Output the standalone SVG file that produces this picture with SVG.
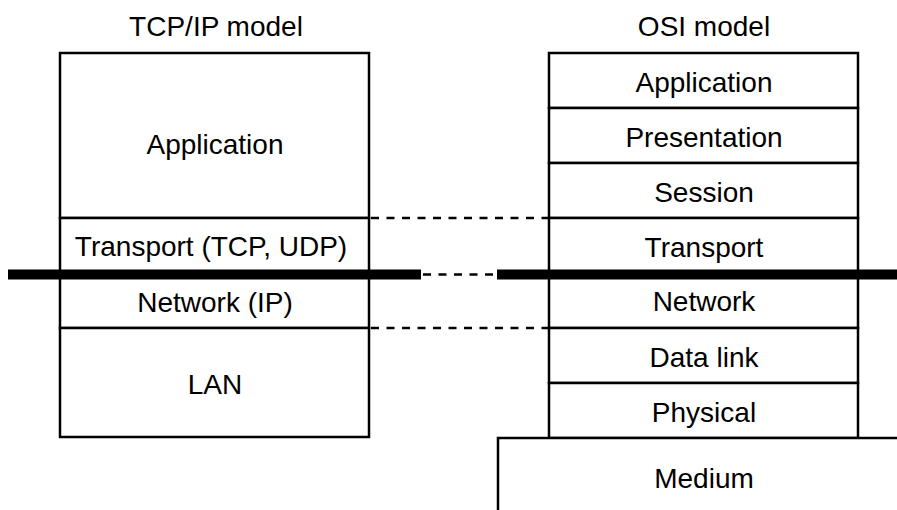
<svg xmlns="http://www.w3.org/2000/svg" width="897" height="510" viewBox="0 0 897 510">
<style>
  .box { fill: #ffffff; stroke: #000000; stroke-width: 2.5; }
  .lbl { font-family: "Liberation Sans", Arial, sans-serif; font-size: 28px; fill: #000000; text-anchor: middle; }
  .dash { stroke: #000000; stroke-width: 2.5; stroke-dasharray: 8 7.5; fill: none; }
  .bar { stroke: #000000; stroke-width: 10; fill: none; }
</style>
<rect width="897" height="510" fill="#ffffff"/>

<text class="lbl" x="216" y="36">TCP/IP model</text>
<text class="lbl" x="704" y="36">OSI model</text>

<!-- TCP/IP model -->
<g id="tcp-application"><rect class="box" x="60" y="53" width="309" height="165"/><text class="lbl" x="215" y="154">Application</text></g>
<g id="tcp-transport"><rect class="box" x="60" y="218" width="309" height="56"/><text class="lbl" x="211" y="256">Transport (TCP, UDP)</text></g>
<g id="tcp-network"><rect class="box" x="60" y="274" width="309" height="54"/><text class="lbl" x="215" y="312">Network (IP)</text></g>
<g id="tcp-lan"><rect class="box" x="60" y="328" width="309" height="109"/><text class="lbl" x="215" y="394">LAN</text></g>

<!-- OSI model -->
<g id="osi-application"><rect class="box" x="549" y="53" width="309" height="55"/><text class="lbl" x="704" y="92">Application</text></g>
<g id="osi-presentation"><rect class="box" x="549" y="108" width="309" height="55"/><text class="lbl" x="704" y="147">Presentation</text></g>
<g id="osi-session"><rect class="box" x="549" y="163" width="309" height="55"/><text class="lbl" x="704" y="202">Session</text></g>
<g id="osi-transport"><rect class="box" x="549" y="218" width="309" height="56"/><text class="lbl" x="704" y="257">Transport</text></g>
<g id="osi-network"><rect class="box" x="549" y="274" width="309" height="54"/><text class="lbl" x="704" y="311">Network</text></g>
<g id="osi-datalink"><rect class="box" x="549" y="328" width="309" height="55"/><text class="lbl" x="704" y="367">Data link</text></g>
<g id="osi-physical"><rect class="box" x="549" y="383" width="309" height="55"/><text class="lbl" x="704" y="422">Physical</text></g>
<g id="medium"><rect class="box" x="498" y="438" width="420" height="90"/><text class="lbl" x="704" y="488">Medium</text></g>

<!-- Thick boundary bars -->
<g id="bars">
  <line class="bar" x1="8" y1="274.5" x2="421" y2="274.5"/>
  <line class="bar" x1="497" y1="274.5" x2="897" y2="274.5"/>
</g>

<!-- Connectors -->
<g id="connectors">
  <line class="dash" x1="371" y1="218" x2="548" y2="218"/>
  <line class="dash" x1="423" y1="274.5" x2="496" y2="274.5"/>
  <line class="dash" x1="371" y1="328" x2="548" y2="328"/>
</g>
</svg>
